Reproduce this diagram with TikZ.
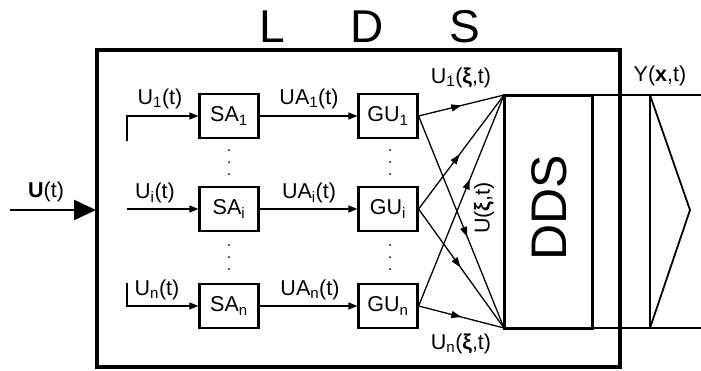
\documentclass[tikz,border=0pt]{standalone}
\usepackage{fontspec}
\setmainfont{Liberation Sans}
\usetikzlibrary{arrows.meta,decorations.markings}
\begin{document}
\begin{tikzpicture}[x=1pt,y=-1pt,
  blk/.style={draw,line width=2.2pt,minimum width=59pt,minimum height=44pt,inner sep=0pt,font=\fontsize{21.5}{23}\selectfont},
  lbl/.style={font=\fontsize{21.5}{23}\selectfont,inner sep=0pt},
  big/.style={font=\fontsize{46}{48}\selectfont,inner sep=0pt},
  con/.style={line width=1.3pt,-{Triangle[length=9pt,width=7pt]}},
  midarr/.style={line width=1.3pt,postaction={decorate},decoration={markings,mark=at position #1 with {\arrow{Triangle[length=10pt,width=7pt]}}}},
  dotc/.style={circle,fill,inner sep=0pt,minimum size=2pt}
]
\useasboundingbox (0,0) rectangle (701,370);
% outer box
\draw[line width=4.5pt] (97,50) rectangle (620,367);
\node[big] (L) at (272,27) {L};
\node[big] (D) at (367,27) {D};
\node[big] (S) at (465,27) {S};
% input
\coordinate (uin) at (10,210);
\coordinate (bin) at (96,210);
\draw[line width=2pt,-{Triangle[length=22pt,width=20pt]}] (uin) -- (bin);
\node[lbl] (Ut) at (46,192) {\textbf{U}(t)};
% SA blocks
\node[blk] (SA1) at (229,116) {SA\textsubscript{1}};
\node[blk] (SAi) at (229,209) {SA\textsubscript{i}};
\node[blk] (SAn) at (229,306) {SA\textsubscript{n}};
% GU blocks
\node[blk] (GU1) at (388,116) {GU\textsubscript{1}};
\node[blk] (GUi) at (388,209) {GU\textsubscript{i}};
\node[blk] (GUn) at (388,306) {GU\textsubscript{n}};
% input lines
\coordinate (a1) at (127,141);
\coordinate (b1) at (127,116);
\coordinate (ai) at (127,209);
\coordinate (an) at (127,283);
\coordinate (bn) at (127,306);
\draw[con] (a1) -- (b1) -- (SA1.west);
\draw[con] (ai) -- (SAi.west);
\draw[con] (an) -- (bn) -- (SAn.west);
\node[lbl] (l1) at (160,99) {U\textsubscript{1}(t)};
\node[lbl] (li) at (155,193) {U\textsubscript{i}(t)};
\node[lbl] (ln) at (157,290) {U\textsubscript{n}(t)};
% SA -> GU
\draw[con] (SA1.east) -- (GU1.west);
\draw[con] (SAi.east) -- (GUi.west);
\draw[con] (SAn.east) -- (GUn.west);
\node[lbl] (ua1) at (309,99) {UA\textsubscript{1}(t)};
\node[lbl] (uai) at (309,193) {UA\textsubscript{i}(t)};
\node[lbl] (uan) at (310,290) {UA\textsubscript{n}(t)};
% dots
\foreach \xx in {229,390} {
  \foreach \yy in {150,162,174,245,257,269} {
    \node[dotc] at (\xx,\yy) {};
  }
}
% DDS
\draw[line width=3pt] (504,95) rectangle (592,328);
\coordinate (T) at (504,95);
\coordinate (B) at (504,328);
\node[font=\fontsize{50}{52}\selectfont,rotate=90,inner sep=0pt] (dds) at (549,208) {DDS};
% crossing lines
\draw[midarr=0.5] (GU1.east) -- (T);
\draw[midarr=0.57] (GU1.east) -- (B);
\draw[midarr=0.48] (GUi.east) -- (T);
\draw[midarr=0.49] (GUi.east) -- (B);
\draw[midarr=0.6] (GUn.east) -- (T);
\draw[midarr=0.5] (GUn.east) -- (B);
\node[lbl] (u1x) at (461,78) {U\textsubscript{1}(\textbf{ξ},t)};
\node[lbl] (unx) at (461,344) {U\textsubscript{n}(\textbf{ξ},t)};
\node[lbl,rotate=90] (ux) at (484,208) {U(\textbf{ξ},t)};
% output
\coordinate (To) at (701,95);
\coordinate (Bo) at (701,328);
\draw[line width=2pt] (592,95) -- (To);
\draw[line width=2pt] (592,328) -- (Bo);
\coordinate (p1) at (650,95);
\coordinate (p2) at (690,210);
\coordinate (p3) at (650,328);
\draw[line width=1.8pt] (p1) -- (p3);
\draw[line width=1.8pt] (p1) -- (p2) -- (p3);
\node[lbl] (y) at (660,76) {Y(\textbf{x},t)};
\end{tikzpicture}
\end{document}
